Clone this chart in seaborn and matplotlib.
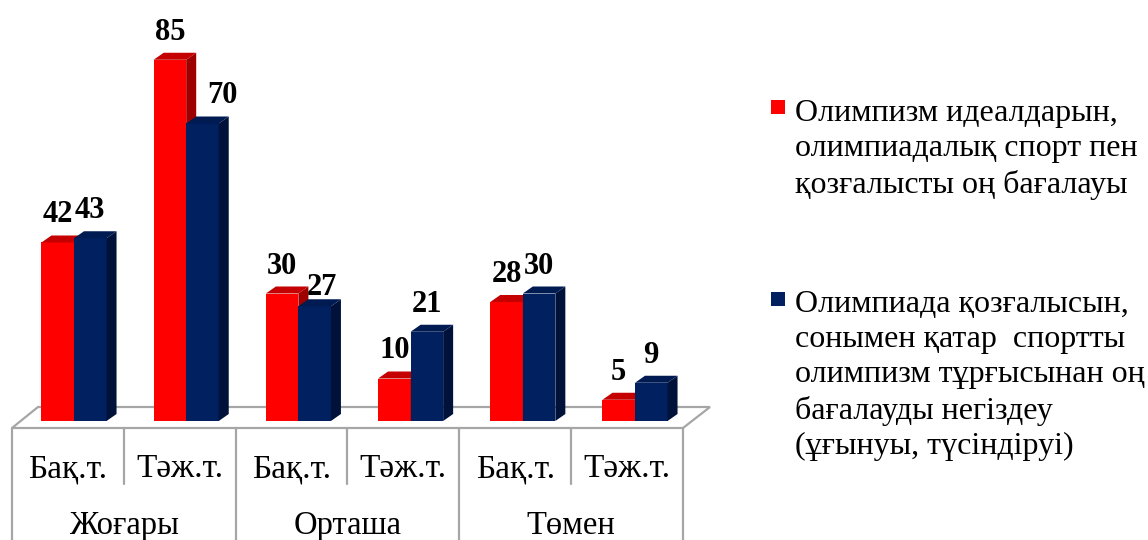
import numpy as np
import pandas as pd
import matplotlib
matplotlib.use('Agg')
import matplotlib.pyplot as plt
import seaborn as sns
from matplotlib.patches import Polygon, Rectangle
from matplotlib.lines import Line2D
from matplotlib.transforms import Affine2D

# data
groups = ['Жоғары', 'Орташа', 'Төмен']
subgroups = ['Бақ.т.', 'Тәж.т.']
series_names = [
    'Олимпизм идеалдарын,\nолимпиадалық спорт пен\nқозғалысты оң бағалауы',
    'Олимпиада қозғалысын,\nсонымен қатар  спортты\nолимпизм тұрғысынан оң\nбағалауды негіздеу\n(ұғынуы, түсіндіруі)',
]
series1 = [42, 85, 30, 10, 28, 5]
series2 = [43, 70, 27, 21, 30, 9]

colors = ['#FF0000', '#002060']
top_colors = ['#C40000', '#001A52']
side_colors = ['#9E0000', '#00123A']
grid_col = '#A6A6A6'
serif = ['Liberation Serif', 'DejaVu Serif']

sns.set_style('white')
plt.rcParams['font.family'] = serif
plt.rcParams['text.color'] = 'black'

cats = [f'{g}|{s}' for g in groups for s in subgroups]
df = pd.DataFrame({
    'cat': cats * 2,
    'value': series1 + series2,
    'series': [series_names[0]] * 6 + [series_names[1]] * 6,
})

W, H = 1148, 540
fig = plt.figure(figsize=(W / 100, H / 100), dpi=100)
pix = Affine2D().scale(1 / W, -1 / H).translate(0, 1) + fig.transFigure

# axes placed so bars sit on the drawn floor
base_y, ppu = 421, 4.25
ax = fig.add_axes([17.9 / W, (H - base_y) / H, 673.2 / W, 90 * ppu / H])
ax.patch.set_visible(False)

sns.barplot(data=df, x='cat', y='value', hue='series', order=cats,
            hue_order=series_names, palette=colors, saturation=1,
            width=0.58, legend=False, ax=ax, errorbar=None)
ax.set_xlim(-0.5, 5.5)
ax.set_ylim(0, 90)
ax.set_autoscale_on(False)
ax.axis('off')

# floor and category table
floor = Polygon([(12, 428), (683, 428), (710, 407), (38, 407)], closed=True,
                facecolor='white', edgecolor=grid_col, lw=1.6,
                transform=pix, clip_on=False, zorder=1)
ax.add_patch(floor)
for k in range(7):
    x = 12 + k * 111.83
    y_end = 540 if k % 2 == 0 else 484
    ax.add_line(Line2D([x, x], [428, y_end], color=grid_col, lw=1.6,
                       transform=pix, clip_on=False, zorder=1))

# 3d faces for bars
to_fig = ax.transData + fig.transFigure.inverted()
ddx, ddy = 10 / W, 7 / H
nudges = {(1, 1): (20, 0), (2, 1): (7, -9)}
for i, cont in enumerate(ax.containers):
    for j, bar in enumerate(cont.patches):
        bar.set_zorder(2 + i)
        bar.set_edgecolor('none')
        x0, w, h = bar.get_x(), bar.get_width(), bar.get_height()
        (fx0, fy0), (fx1, fy1) = to_fig.transform([(x0, 0), (x0 + w, h)])
        side = Polygon([(fx1, fy0), (fx1, fy1), (fx1 + ddx, fy1 + ddy), (fx1 + ddx, fy0 + ddy)],
                       closed=True, facecolor=side_colors[i], edgecolor='none',
                       transform=fig.transFigure, clip_on=False, zorder=2.5 + i)
        top = Polygon([(fx0, fy1), (fx1, fy1), (fx1 + ddx, fy1 + ddy), (fx0 + ddx, fy1 + ddy)],
                      closed=True, facecolor=top_colors[i], edgecolor='none',
                      transform=fig.transFigure, clip_on=False, zorder=2.5 + i)
        ax.add_patch(side)
        ax.add_patch(top)
        nx, ny = nudges.get((j, i), (0, 0))
        ax.annotate(f'{h:.0f}', xy=(x0 + w / 2, h), xytext=(nx, 20 + ny),
                    textcoords='offset pixels', ha='center', va='baseline',
                    fontsize=22, fontweight='bold', color='black', family=serif,
                    annotation_clip=False, zorder=5)

# category labels
for k, c in enumerate(cats):
    fig.text(12 + (k + 0.5) * 111.83, 477, c.split('|')[1], transform=pix,
             ha='center', va='baseline', fontsize=24, family=serif, color='black')
for g_i, g in enumerate(groups):
    fig.text(12 + (2 * g_i + 1) * 111.83, 534, g, transform=pix,
             ha='center', va='baseline', fontsize=23.5, family=serif, color='black')

# legend
leg_tops = [99, 290]
square_tops = [100, 292]
for i, name in enumerate(series_names):
    fig.add_artist(Rectangle((771, square_tops[i]), 14, 14, transform=pix,
                             facecolor=colors[i], edgecolor='none'))
    fig.text(795, leg_tops[i], name, transform=pix, ha='left', va='top',
             fontsize=23, linespacing=1.28, family=serif, color='black')

fig.savefig('out.png', dpi=100)
